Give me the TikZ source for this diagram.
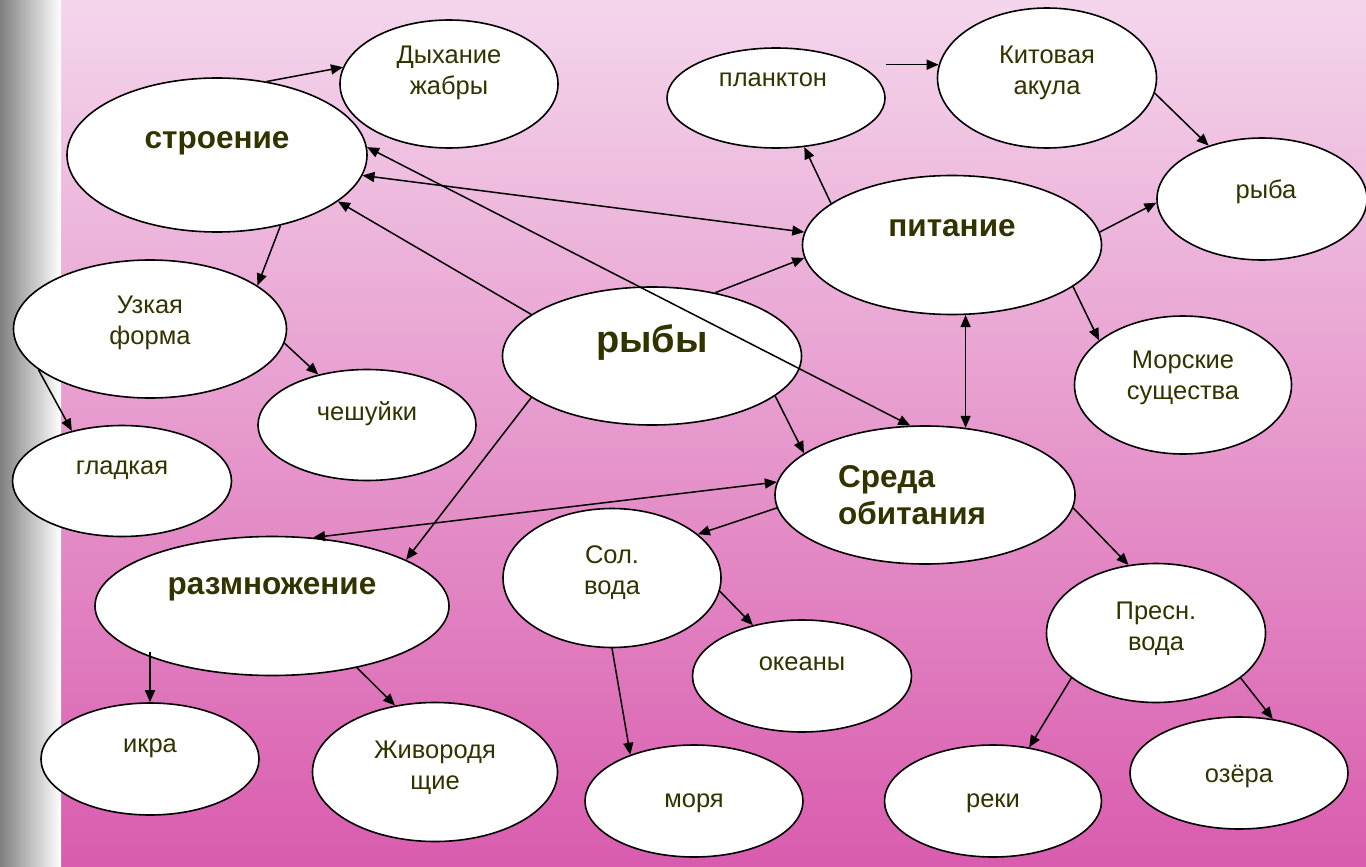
\documentclass[tikz,border=0pt]{standalone}
\usepackage{fontspec}
\setmainfont{Liberation Sans}
\usetikzlibrary{shapes.geometric,arrows.meta}
\definecolor{txt}{RGB}{51,51,0}
\definecolor{bgtop}{RGB}{244,214,236}
\definecolor{bgbot}{RGB}{217,92,174}
\definecolor{barl}{RGB}{128,128,128}
\begin{document}
\begin{tikzpicture}[x=1pt,y=-1pt,
 ell/.style={ellipse,draw=black,fill=white,line width=1.6pt,inner sep=0pt},
 lab/.style={text=txt,font=\fontsize{25.5}{31}\selectfont,align=center,inner sep=0pt},
 blab/.style={text=txt,font=\fontsize{31.5}{37}\selectfont\bfseries,align=center,inner sep=0pt},
 arr/.style={-{Triangle[length=12pt,width=10pt]},line width=1.5pt},
 darr/.style={{Triangle[length=12pt,width=10pt]}-{Triangle[length=12pt,width=10pt]},line width=1.5pt}]
\useasboundingbox (0,0) rectangle (1366,867);
\shade[top color=bgtop,bottom color=bgbot] (61,0) rectangle (1366,867);
\shade[left color=barl,right color=white] (0,0) rectangle (61,867);

% ellipses
\node[ell,minimum width=300pt,minimum height=154pt] (A) at (217,155) {};
\node[ell,minimum width=218pt,minimum height=128pt] (B) at (449,84) {};
\node[ell,minimum width=218pt,minimum height=100pt] (C) at (776,98) {};
\node[ell,minimum width=219pt,minimum height=140pt] (D) at (1047,78) {};
\node[ell,minimum width=210pt,minimum height=122pt] (E) at (1262,199) {};
\node[ell,minimum width=299pt,minimum height=139pt] (F) at (952,245) {};
\node[ell,minimum width=273pt,minimum height=138pt] (G) at (150,329) {};
\node[ell,minimum width=299pt,minimum height=138pt] (H) at (652,356) {};
\node[ell,minimum width=217pt,minimum height=138pt] (I) at (1183,385) {};
\node[ell,minimum width=218pt,minimum height=111pt] (J) at (367,425) {};
\node[ell,minimum width=219pt,minimum height=111pt] (K) at (122,481) {};
\node[ell,minimum width=300pt,minimum height=138pt] (L) at (925,495) {};
\node[ell,minimum width=218pt,minimum height=139pt] (M) at (612,578) {};
\node[ell,minimum width=354pt,minimum height=139pt] (N) at (272,606) {};
\node[ell,minimum width=219pt,minimum height=139pt] (O) at (1156,633) {};
\node[ell,minimum width=219pt,minimum height=112pt] (P) at (802,676) {};
\node[ell,minimum width=218pt,minimum height=112pt] (Q) at (150,759) {};
\node[ell,minimum width=245pt,minimum height=139pt] (R) at (435,772) {};
\node[ell,minimum width=218pt,minimum height=112pt] (S) at (694,801) {};
\node[ell,minimum width=217pt,minimum height=112pt] (T) at (993,801) {};
\node[ell,minimum width=218pt,minimum height=112pt] (U) at (1239,773) {};

% texts
\node[blab] (tA) at (217,143) {строение};
\node[lab] (tB) at (449,73) {Дыхание\\жабры};
\node[lab] (tC) at (773,80) {планктон};
\node[lab] (tD) at (1047,73) {Китовая\\акула};
\node[lab] (tE) at (1266,192) {рыба};
\node[blab] (tF) at (952,228) {питание};
\node[lab] (tG) at (150,323) {Узкая\\форма};
\node[blab,font=\fontsize{38}{44}\selectfont\bfseries] (tH) at (652,343) {рыбы};
\node[lab] (tI) at (1183,378) {Морские\\существа};
\node[lab] (tJ) at (367,414) {чешуйки};
\node[lab] (tK) at (122,470) {гладкая};
\node[blab,align=left,anchor=west] (tL) at (838,495) {Среда\\обитания};
\node[lab] (tM) at (612,573) {Сол.\\вода};
\node[blab] (tN) at (272,589) {размножение};
\node[lab] (tO) at (1156,629) {Пресн.\\вода};
\node[lab] (tP) at (802,664) {океаны};
\node[lab] (tQ) at (150,748) {икра};
\node[lab] (tR) at (435,768) {Живородя\\щие};
\node[lab] (tS) at (694,803) {моря};
\node[lab] (tT) at (993,803) {реки};
\node[lab] (tU) at (1239,776) {озёра};

% connectors
\draw[arr] (A.56) -- (B.171);
\draw[arr] (A.-48) -- (G.22);
\draw[arr] (G.-6) -- (J.134);
\draw[arr] (G.-160) -- (K.135);
\draw[arr] (H.161) -- (A.-21);
\draw[darr] (F.175) -- (A.-8);
\draw[darr] (A.3) -- (L.102);
\draw[arr] (H.45) -- (F.-175);
\draw[arr] (F.161) -- (C.-60);
\draw[arr] (D.173 -| C.east) -- (D.173);
\draw[arr] (D.-8) -- (E.135);
\draw[arr] (F.5) -- (E.-178);
\draw[arr] (F.-19) -- (I.152);
\draw[darr] (F.-79) -- (F.-79 |- L.59);
\draw[arr] (H.-18) -- (L.161);
\draw[arr] (H.-161) -- (N.19);
\draw[darr] (L.175) -- (N.59);
\draw[arr] (L.-175) -- (M.27);
\draw[arr] (L.-5) -- (O.112);
\draw[arr] (M.-7) -- (P.134);
\draw[arr] (M.-90) -- (S.144);
\draw[arr] (O.-152) -- (T.56);
\draw[arr] (O.-28) -- (U.58);
\draw[arr] (N.-161 -| Q.north) -- (Q.north);
\draw[arr] (N.-36) -- (R.121);
\end{tikzpicture}
\end{document}
